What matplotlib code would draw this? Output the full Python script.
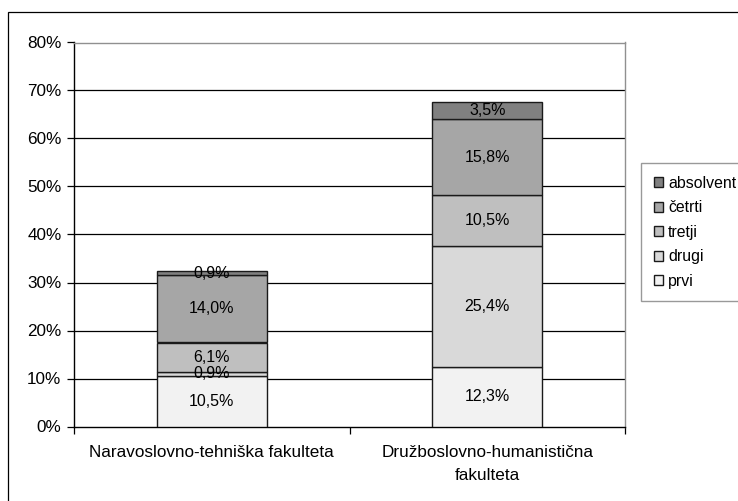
import numpy as np
import matplotlib.pyplot as plt
from matplotlib.patches import Rectangle

plt.rcParams['font.family'] = ['Liberation Sans', 'DejaVu Sans']

# podatki
kategorije = ['Naravoslovno-tehniška fakulteta', 'Družboslovno-humanistična\nfakulteta']
letniki = ['prvi', 'drugi', 'tretji', 'četrti', 'absolvent']
prvi = [10.5, 12.3]
drugi = [0.9, 25.4]
tretji = [6.1, 10.5]
cetrti = [14.0, 15.8]
absolvent = [0.9, 3.5]
barve = ['#F2F2F2', '#D9D9D9', '#BFBFBF', '#A6A6A6', '#808080']

serije = [prvi, drugi, tretji, cetrti, absolvent]

fig = plt.figure(figsize=(7.38, 5.01), dpi=100)
ax = fig.add_axes([74/738, 1 - 426.5/501, (625 - 74)/738, (426.5 - 42.5)/501])

# zunanji okvir grafikona
fig.patches.append(Rectangle((8/738, -0.2), 1.2, 1.2 - 12/501,
                             transform=fig.transFigure, fill=False,
                             edgecolor='black', linewidth=0.9))

x = np.arange(len(kategorije))
dno = np.zeros(len(kategorije))
for ime, vrednosti, barva in zip(letniki, serije, barve):
    v = np.array(vrednosti)
    ax.bar(x, v, width=0.4, bottom=dno, color=barva, edgecolor='#1a1a1a',
           linewidth=1.0, label=ime, zorder=3)
    for xi, b, h in zip(x, dno, v):
        ax.text(xi, b + h / 2, f'{h:.1f}%'.replace('.', ','), ha='center',
                va='center', fontsize=11.5, zorder=4)
    dno = dno + v

ax.set_xlim(-0.5, 1.5)
ax.set_ylim(0, 80)
ax.set_yticks(np.arange(0, 81, 10))
ax.set_yticklabels([f'{t}%' for t in range(0, 81, 10)], fontsize=12.3)
ax.set_xticks(x)
ax.set_xticklabels(kategorije, fontsize=12.3, linespacing=1.7)
ax.tick_params(axis='x', length=0, pad=13)
ax.set_xticks([-0.5, 0.5, 1.5], minor=True)
ax.tick_params(axis='x', which='minor', length=5, direction='out', width=0.9)
ax.tick_params(axis='y', length=5, direction='out', width=0.9, pad=4)

for t in range(10, 80, 10):
    ax.axhline(t, color='black', linewidth=0.9, zorder=1)

ax.spines['left'].set_color('black')
ax.spines['bottom'].set_color('black')
ax.spines['top'].set_color('#909090')
ax.spines['right'].set_color('#909090')
for s in ax.spines.values():
    s.set_linewidth(1.0)

h, l = ax.get_legend_handles_labels()
leg = fig.legend(h[::-1], l[::-1], loc='upper left',
                 bbox_to_anchor=(641/738, 1 - 163/501), fontsize=11.4,
                 frameon=True, fancybox=False, handlelength=0.6,
                 handleheight=0.6, handletextpad=0.3, labelspacing=0.6,
                 borderpad=0.8, borderaxespad=0)
leg.get_frame().set_edgecolor('#808080')
leg.get_frame().set_linewidth(1.0)

fig.savefig('out.png', dpi=100)
